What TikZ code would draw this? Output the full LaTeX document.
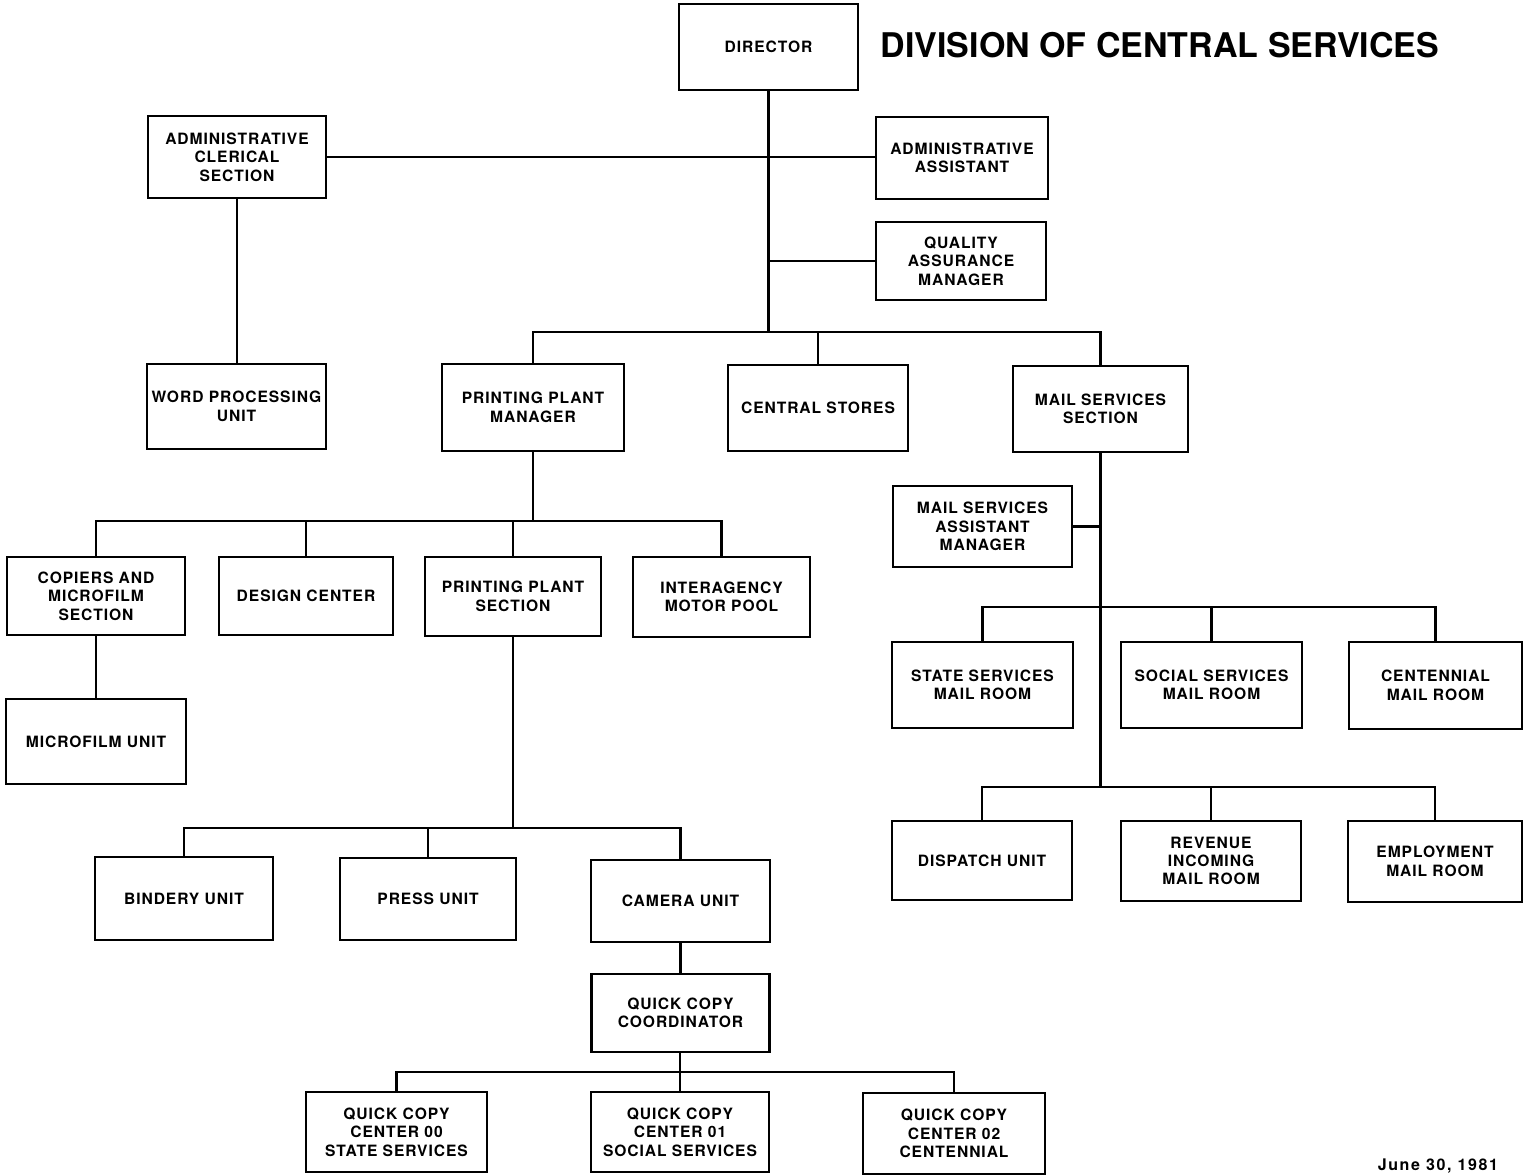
\documentclass[tikz,border=0pt]{standalone}
\usepackage{fontspec}
\setmainfont{TeX Gyre Heros}
\newfontfamily\boxfont[LetterSpace=6]{TeX Gyre Heros}
\newfontfamily\datefont[LetterSpace=10]{TeX Gyre Heros}
\begin{document}
\begin{tikzpicture}[x=0.5pt,y=-0.5pt,
  unitbox/.style={draw, line width=1.3pt, align=center, inner sep=1pt,
    font=\boxfont\bfseries\fontsize{7.8}{9.2}\selectfont},
  link/.style={line width=1.3pt}]
\useasboundingbox (0,0) rectangle (1527,1176);
% boxes
\node[unitbox, minimum width=89.5pt, minimum height=43pt] (dir) at (768.5,47) {DIRECTOR};
\node[font=\bfseries\fontsize{17}{19}\selectfont] (title) at (1160,45) {DIVISION OF CENTRAL SERVICES};
\node[unitbox, minimum width=89pt, minimum height=41pt] (acs) at (237,157) {ADMINISTRATIVE\\CLERICAL\\SECTION};
\node[unitbox, minimum width=86pt, minimum height=41pt] (aa) at (962,158) {ADMINISTRATIVE\\ASSISTANT};
\node[unitbox, minimum width=85pt, minimum height=39pt] (qa) at (961,261) {QUALITY\\ASSURANCE\\MANAGER};
\node[unitbox, minimum width=89.5pt, minimum height=42.5pt] (wp) at (236.5,406.5) {WORD PROCESSING\\UNIT};
\node[unitbox, minimum width=91pt, minimum height=43.5pt] (ppm) at (533,407.5) {PRINTING PLANT\\MANAGER};
\node[unitbox, minimum width=90pt, minimum height=43pt] (cs) at (818,408) {CENTRAL STORES};
\node[unitbox, minimum width=87.5pt, minimum height=43pt] (mss) at (1100.5,409) {MAIL SERVICES\\SECTION};
\node[unitbox, minimum width=89.5pt, minimum height=40.5pt] (msam) at (982.5,526.5) {MAIL SERVICES\\ASSISTANT\\MANAGER};
\node[unitbox, minimum width=89pt, minimum height=39pt] (cms) at (96,596) {COPIERS AND\\MICROFILM\\SECTION};
\node[unitbox, minimum width=87pt, minimum height=39pt] (dc) at (306,596) {DESIGN CENTER};
\node[unitbox, minimum width=88pt, minimum height=39.5pt] (pps) at (513,596.5) {PRINTING PLANT\\SECTION};
\node[unitbox, minimum width=88.5pt, minimum height=40pt] (imp) at (721.5,597) {INTERAGENCY\\MOTOR POOL};
\node[unitbox, minimum width=90pt, minimum height=42.5pt] (mu) at (96,741.5) {MICROFILM UNIT};
\node[unitbox, minimum width=90.5pt, minimum height=43pt] (ssmr) at (982.5,685) {STATE SERVICES\\MAIL ROOM};
\node[unitbox, minimum width=90.5pt, minimum height=43pt] (socmr) at (1211.5,685) {SOCIAL SERVICES\\MAIL ROOM};
\node[unitbox, minimum width=86.5pt, minimum height=43.5pt] (cmr) at (1435.5,685.5) {CENTENNIAL\\MAIL ROOM};
\node[unitbox, minimum width=90pt, minimum height=39.5pt] (du) at (982,860.5) {DISPATCH UNIT};
\node[unitbox, minimum width=90pt, minimum height=40pt] (rimr) at (1211,861) {REVENUE\\INCOMING\\MAIL ROOM};
\node[unitbox, minimum width=87pt, minimum height=40.5pt] (emr) at (1435,861.5) {EMPLOYMENT\\MAIL ROOM};
\node[unitbox, minimum width=89pt, minimum height=41.5pt] (bu) at (184,898.5) {BINDERY UNIT};
\node[unitbox, minimum width=88pt, minimum height=41pt] (pu) at (428,899) {PRESS UNIT};
\node[unitbox, minimum width=89.5pt, minimum height=41pt] (cu) at (680.5,901) {CAMERA UNIT};
\node[unitbox, minimum width=89pt, minimum height=39pt] (qcc) at (680.5,1013) {QUICK COPY\\COORDINATOR};
\node[unitbox, minimum width=90.5pt, minimum height=40pt] (q00) at (396.5,1132) {QUICK COPY\\CENTER 00\\STATE SERVICES};
\node[unitbox, minimum width=89pt, minimum height=40pt] (q01) at (680,1132) {QUICK COPY\\CENTER 01\\SOCIAL SERVICES};
\node[unitbox, minimum width=91pt, minimum height=40.5pt] (q02) at (954,1133.5) {QUICK COPY\\CENTER 02\\CENTENNIAL};
\node[font=\datefont\bfseries\fontsize{8}{9}\selectfont, anchor=east] (date) at (1505,1166) {June 30, 1981};
% bus coordinates
\coordinate (b1) at (768.5,332);
\coordinate (b2) at (532,521);
\coordinate (b3) at (515,828);
\coordinate (b4) at (680,1072);
\coordinate (b5) at (1100.5,607);
\coordinate (b6) at (1100.5,787);
% connectors
\draw[link] (dir.south) -- (b1);
\draw[link] (acs.east) -- (acs.east -| aa.west);
\draw[link] (qa.west) -- (qa.west -| dir.south);
\draw[link] (ppm.north) |- (b1) -| (mss.north);
\draw[link] (cs.north) -- (cs.north |- b1);
\draw[link] (acs.south) -- (acs.south |- wp.north);
\draw[link] (ppm.south) -- (ppm.south |- b2);
\draw[link] (cms.north) |- (b2) -| (imp.north);
\draw[link] (dc.north) -- (dc.north |- b2);
\draw[link] (pps.north) -- (pps.north |- b2);
\draw[link] (cms.south) -- (mu.north);
\draw[link] (pps.south) -- (pps.south |- b3);
\draw[link] (bu.north) |- (b3) -| (cu.north);
\draw[link] (pu.north) -- (pu.north |- b3);
\draw[link] (cu.south) -- (qcc.north);
\draw[link] (q01.north) -- (q01.north |- qcc.south);
\draw[link] (q00.north) |- (b4) -| (q02.north);
\draw[link] (mss.south) -- (b6);
\draw[link] (msam.east) -- (msam.east -| mss.south);
\draw[link] (ssmr.north) |- (b5) -| (cmr.north);
\draw[link] (socmr.north) -- (socmr.north |- b5);
\draw[link] (du.north) |- (b6) -| (emr.north);
\draw[link] (rimr.north) -- (rimr.north |- b6);
\end{tikzpicture}
\end{document}
